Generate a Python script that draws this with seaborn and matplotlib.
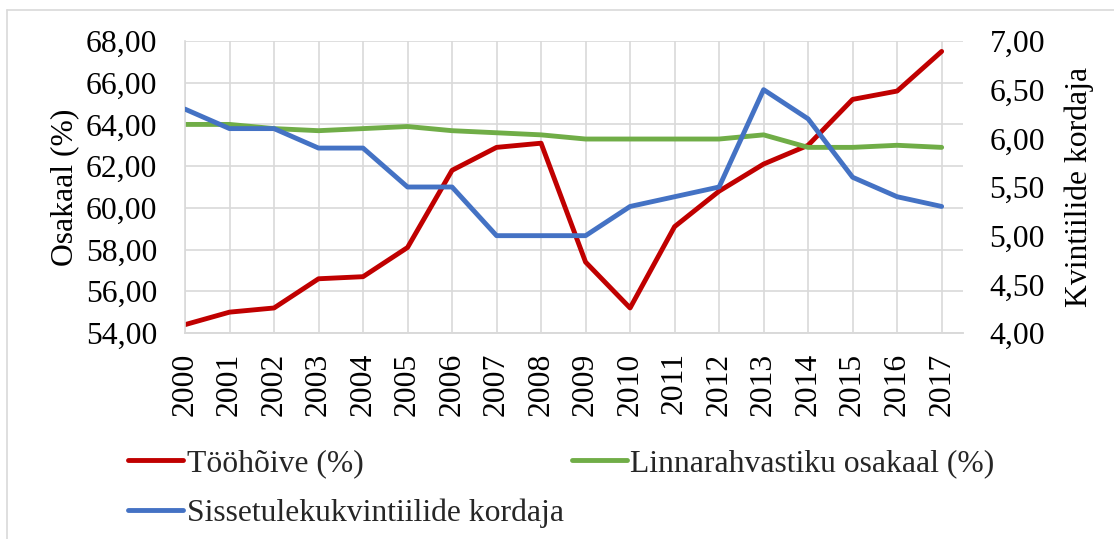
import matplotlib
matplotlib.use("Agg")
import matplotlib.pyplot as plt
import seaborn as sns
import pandas as pd
from matplotlib.ticker import FuncFormatter, MultipleLocator
from matplotlib.lines import Line2D

years = list(range(2000, 2018))
employment = [54.4, 55.0, 55.2, 56.6, 56.7, 58.1, 61.8, 62.9, 63.1, 57.4,
              55.2, 59.1, 60.8, 62.1, 63.0, 65.2, 65.6, 67.5]
urban_share = [64.0, 64.0, 63.8, 63.7, 63.8, 63.9, 63.7, 63.6, 63.5, 63.3,
               63.3, 63.3, 63.3, 63.5, 62.9, 62.9, 63.0, 62.9]
quintile_ratio = [6.3, 6.1, 6.1, 5.9, 5.9, 5.5, 5.5, 5.0, 5.0, 5.0,
                  5.3, 5.4, 5.5, 6.5, 6.2, 5.6, 5.4, 5.3]

label_emp = "Tööhõive (%)"
label_urban = "Linnarahvastiku osakaal (%)"
label_ratio = "Sissetulekukvintiilide kordaja"
c_red, c_green, c_blue = "#C00000", "#70AD47", "#4472C4"

df = pd.DataFrame({"year": years, "emp": employment, "urban": urban_share, "ratio": quintile_ratio})

sns.set_theme(style="white")
plt.rcParams["font.family"] = ["Liberation Serif", "DejaVu Serif"]
fs = 22.8

fig = plt.figure(figsize=(11.14, 5.39), dpi=100)
ax = fig.add_axes([185/1114, 1-333/539, (963-185)/1114, (333-41)/539])
ax2 = ax.twinx()

lw = 3.5
sns.lineplot(data=df, x="year", y="emp", ax=ax, color=c_red, linewidth=lw, legend=False)
sns.lineplot(data=df, x="year", y="urban", ax=ax, color=c_green, linewidth=lw, legend=False)
sns.lineplot(data=df, x="year", y="ratio", ax=ax2, color=c_blue, linewidth=lw, legend=False)

ax.set_xlim(2000, 2017.48)
ax.set_ylim(54, 68)
ax2.set_ylim(4, 7)
ax.yaxis.set_major_locator(MultipleLocator(2))
ax2.yaxis.set_major_locator(MultipleLocator(0.5))
ax.yaxis.set_major_formatter(FuncFormatter(lambda v, p: f"{v:.2f}".replace(".", ",")))
ax2.yaxis.set_major_formatter(FuncFormatter(lambda v, p: f"{v:.2f}".replace(".", ",")))
ax.set_xticks(years)
ax.set_xticklabels([str(y) for y in years], rotation=90)

grid_c = "#D9D9D9"
ax.grid(True, color=grid_c, linewidth=1.2)
ax2.grid(False)
ax.set_axisbelow(True)
for a in (ax, ax2):
    for s in ("top", "right"):
        a.spines[s].set_visible(False)
    a.spines["left"].set_visible(False)
    a.spines["bottom"].set_color(grid_c)
    a.spines["bottom"].set_linewidth(1.2)
ax.spines["left"].set_visible(True)
ax.spines["left"].set_color(grid_c)
ax.spines["left"].set_linewidth(1.2)

ax.tick_params(axis="y", length=0, pad=20, labelsize=fs, colors="black")
ax.tick_params(axis="x", length=0, pad=14, labelsize=fs, colors="black")
ax2.tick_params(axis="y", length=0, pad=19, labelsize=fs, colors="black")

ax.set_xlabel("")
ax.set_ylabel("Osakaal (%)", fontsize=fs, labelpad=5, color="black")
ax2.set_ylabel("Kvintiilide kordaja", fontsize=fs, labelpad=14, color="black")

handles = [Line2D([], [], color=c_red, linewidth=lw),
           Line2D([], [], color=c_blue, linewidth=lw),
           Line2D([], [], color=c_green, linewidth=lw)]
labels = [label_emp, label_ratio, label_urban]
fig.legend(handles, labels, loc="upper left", bbox_to_anchor=(128/1114, 1-449/539),
           ncol=2, frameon=False, fontsize=fs, handlelength=1.75, handletextpad=0.1,
           columnspacing=0.25, labelspacing=0.65, borderaxespad=0, borderpad=0)

# outer chart border
fig.add_artist(Line2D([7/1114, 7/1114], [0, 1-10/539], transform=fig.transFigure, color=grid_c, linewidth=1.2))
fig.add_artist(Line2D([7/1114, 1], [1-10/539, 1-10/539], transform=fig.transFigure, color=grid_c, linewidth=1.2))

fig.savefig("out.png", dpi=100)
